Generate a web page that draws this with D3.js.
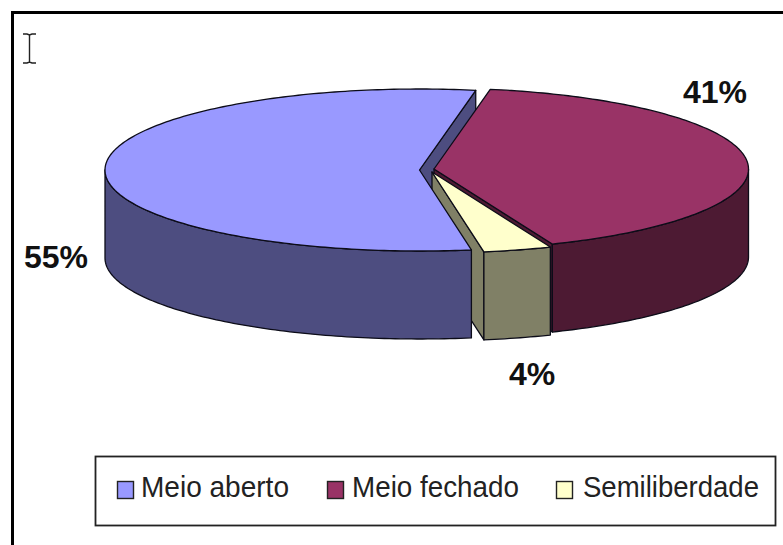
<!DOCTYPE html>
<html>
<head>
<meta charset="utf-8">
<script src="https://cdn.jsdelivr.net/npm/d3@7/dist/d3.min.js"></script>
<style>
html,body{margin:0;padding:0;background:#fff;overflow:hidden}
svg{display:block}
text{font-family:"Liberation Sans",Arial,sans-serif}
</style>
</head>
<body>
<svg id="c" width="783" height="545"></svg>
<script>
const categories = ["Meio aberto", "Meio fechado", "Semiliberdade"];
const shares = [55.5, 41, 3.5];
const valueLabels = ["55%", "41%", "4%"];
const topColors = ["#9999ff", "#993366", "#ffffcc"];
const wallColors = ["#4d4d80", "#4d1a33", "#808066"];

const svg = d3.select("#c");
const W = 783, H = 545;
const RX = 314.5, RY = 81, DEPTH = 88;
const apexes = [[419.5, 170], [434, 169], [432, 172]];
const rad = d => d * Math.PI / 180;

svg.append("rect").attr("width", W).attr("height", H).attr("fill", "#fff");

const pie = d3.pie().sort(null).startAngle(rad(170.5)).endAngle(rad(170.5 + 360));
const arcs = pie(shares);

const scaleX = i => d3.scaleLinear().domain([-1, 1]).range([apexes[i][0] - RX, apexes[i][0] + RX]);
const scaleY = i => d3.scaleLinear().domain([-1, 1]).range([apexes[i][1] - RY, apexes[i][1] + RY]);
const rimPoint = (i, a, z) => [scaleX(i)(Math.sin(a)), scaleY(i)(-Math.cos(a)) + z * DEPTH];
const rim = (i, a0, a1, z) => {
  const n = Math.max(2, Math.ceil(Math.abs(a1 - a0) / rad(1)));
  return d3.range(n + 1).map(k => rimPoint(i, a0 + (a1 - a0) * k / n, z));
};
const line = d3.line().curve(d3.curveLinear);

function draw(points, fill) {
  svg.append("path")
    .attr("d", line(points) + "Z")
    .attr("fill", fill)
    .attr("stroke", "#0c0c18")
    .attr("stroke-width", 1.3)
    .attr("stroke-linejoin", "round");
}
function topFace(i) {
  const [ax, ay] = apexes[i];
  draw([[ax, ay], ...rim(i, arcs[i].startAngle, arcs[i].endAngle, 0)], topColors[i]);
}
function radialWall(i, a) {
  const [ax, ay] = apexes[i];
  const p = rimPoint(i, a, 0), q = rimPoint(i, a, 1);
  draw([[ax, ay], p, q, [ax, ay + DEPTH]], wallColors[i]);
}
function outerWall(i, a0, a1) {
  draw([...rim(i, a0, a1, 0), ...rim(i, a1, a0, 1)], wallColors[i]);
}

// back to front
const [blue, red, yellow] = arcs;
radialWall(0, blue.endAngle);
radialWall(1, red.endAngle);
outerWall(1, rad(450), red.endAngle);
topFace(1);
radialWall(2, yellow.endAngle);
outerWall(2, yellow.startAngle, yellow.endAngle);
topFace(2);
outerWall(0, blue.startAngle, rad(270));
topFace(0);

// value labels
const labelPos = [[24, 268], [683, 103], [509, 385]];
svg.selectAll("text.val").data(valueLabels).join("text")
  .attr("class", "val")
  .attr("x", (d, i) => labelPos[i][0])
  .attr("y", (d, i) => labelPos[i][1])
  .attr("font-size", 32).attr("font-weight", "bold").attr("fill", "#111")
  .text(d => d);

// frame (left and top only)
svg.append("path").attr("d", "M12.5,545V12.5H783").attr("fill", "none")
  .attr("stroke", "#000").attr("stroke-width", 3);

// I-beam cursor
svg.append("path")
  .attr("d", "M23,34H27L29.5,35L32,34H36M29.5,35V62M23,63H27L29.5,62L32,63H36")
  .attr("fill", "none").attr("stroke", "#222").attr("stroke-width", 1.4);

// legend
svg.append("rect").attr("x", 95.5).attr("y", 456.5).attr("width", 680).attr("height", 69)
  .attr("fill", "#fff").attr("stroke", "#222").attr("stroke-width", 1.8);
const markerX = [117, 327, 556];
const textX = [141, 352, 583];
const textW = [148, 167, 176];
const g = svg.selectAll("g.leg").data(categories).join("g").attr("class", "leg");
g.append("rect")
  .attr("x", (d, i) => markerX[i] + .5).attr("y", 481.5).attr("width", 16).attr("height", 17)
  .attr("fill", (d, i) => topColors[i]).attr("stroke", "#222").attr("stroke-width", 1.4);
g.append("text")
  .attr("x", (d, i) => textX[i]).attr("y", 497)
  .attr("font-size", 30).attr("fill", "#222")
  .attr("textLength", (d, i) => textW[i]).attr("lengthAdjust", "spacingAndGlyphs")
  .text(d => d);
</script>
</body>
</html>
